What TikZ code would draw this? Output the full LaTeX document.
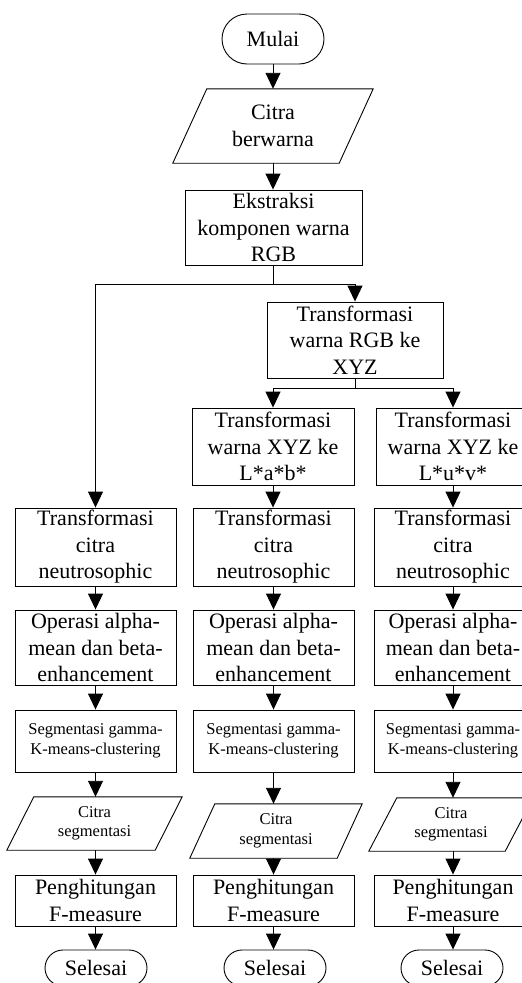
\documentclass[tikz,border=0pt]{standalone}
\usepackage{fontspec}
\setmainfont{Liberation Serif}
\usetikzlibrary{arrows.meta}
\newcommand\fbig{\fontsize{22}{26.5}\selectfont}
\newcommand\fsmall{\fontsize{16.5}{19.5}\selectfont}
\tikzset{
  ln/.style={line width=0.9pt},
  arr/.style={ln,-{Triangle[width=15pt,length=16pt]}},
  proc/.style={draw, ln, align=center, inner sep=0pt, font=\fbig},
  term/.style={draw, ln, rounded corners=25pt, minimum width=102pt, minimum height=50pt, align=center, inner sep=0pt, font=\fbig},
  endterm/.style={draw, ln, rounded corners=18pt, minimum width=102pt, minimum height=36pt, align=center, inner sep=0pt, font=\fbig},
  io/.style={align=center, inner sep=0pt},
}
\begin{document}
\begin{tikzpicture}[x=1pt,y=-1pt]
\useasboundingbox (0,0) rectangle (522,983);
\clip (0,0) rectangle (522,983);
\node[term] (start) at (273,39) {Mulai};
\node[io, font=\fbig, minimum width=166pt, minimum height=74pt] (in) at (273,126) {Citra\\berwarna};
\draw[ln] ([xshift=17pt]in.north west) -- ([xshift=17pt]in.north east) -- ([xshift=-17pt]in.south east) -- ([xshift=-17pt]in.south west) -- cycle;
\node[proc, minimum width=177pt, minimum height=75pt] (ext) at (273.5,227.5) {Ekstraksi\\komponen warna\\RGB};
\node[proc, minimum width=176pt, minimum height=76pt] (xyz) at (355,340) {Transformasi\\warna RGB ke\\XYZ};
\node[proc, minimum width=162pt, minimum height=77pt] (lab) at (273,446.5) {Transformasi\\warna XYZ ke\\L*a*b*};
\node[proc, minimum width=154pt, minimum height=77pt] (luv) at (453,446.5) {Transformasi\\warna XYZ ke\\L*u*v*};
\foreach \c/\x/\w/\py/\ph/\pw/\ps/\px/\ex in {a/95.5/161/823.5/53/148/27/94.5/96, b/273.5/161/831/54/147/25/276/275, c/453/158/824.5/53/136/28/451/452}{
  \node[proc, minimum width=\w pt, minimum height=78pt] (n\c) at (\x,547) {Transformasi\\citra\\neutrosophic};
  \node[proc, minimum width=\w pt, minimum height=75pt] (o\c) at (\x,647.5) {Operasi alpha-\\mean dan beta-\\enhancement};
  \node[proc, font=\fsmall, minimum width=\w pt, minimum height=62pt] (s\c) at (\x,741) {Segmentasi gamma-\\K-means-clustering};
  \node[io, font=\fsmall, minimum width=\pw pt, minimum height=\ph pt] (p\c) at (\px,\py) {Citra\\segmentasi};
  \draw[ln] ([xshift=\ps/2]p\c.north west) -- ([xshift=\ps/2]p\c.north east) -- ([xshift=-\ps/2]p\c.south east) -- ([xshift=-\ps/2]p\c.south west) -- cycle;
  \node[proc, minimum width=\w pt, minimum height=51pt] (f\c) at (\x,900.5) {Penghitungan\\F-measure};
  \node[endterm] (e\c) at (\ex,968) {Selesai};
  \draw[arr] (n\c.south) -- (o\c.north);
  \draw[arr] (o\c.south) -- (s\c.north);
  \draw[arr] (s\c.south) -- (s\c.south |- p\c.north);
  \draw[arr] (f\c.north |- p\c.south) -- (f\c.north);
  \draw[arr] (f\c.south) -- (f\c.south |- e\c.north);
}
\draw[arr] (start.south) -- (in.north);
\draw[arr] (in.south) -- (in.south |- ext.north);
\coordinate (br) at (273.5,284);
\draw[ln] (ext.south) -- (br);
\draw[arr] (br) -| (na.north);
\draw[arr] (br) -| (xyz.north);
\coordinate (br2) at (355,388);
\draw[ln] (xyz.south) -- (br2);
\draw[arr] (br2) -| (lab.north);
\draw[arr] (br2) -| (luv.north);
\draw[arr] (lab.south) -- (lab.south |- nb.north);
\draw[arr] (luv.south) -- (nc.north);
\end{tikzpicture}
\end{document}
